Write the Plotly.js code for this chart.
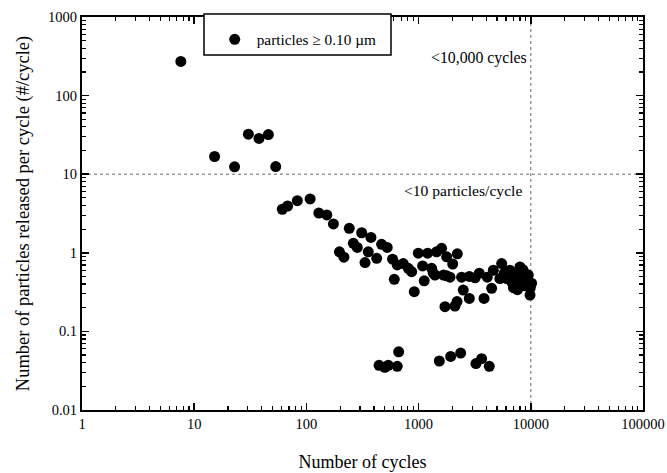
<!DOCTYPE html>
<html>
<head>
<meta charset="utf-8">
<script src="https://cdn.plot.ly/plotly-3.0.1.min.js"></script>
<style>
html,body{margin:0;padding:0;background:#fff;}
#chart{width:667px;height:473px;}
</style>
</head>
<body>
<div id="chart"></div>
<script>
// Data
const cycles = [
  7.6, 15.2, 22.9, 30.4, 37.8, 45.8, 53.3, 61, 68, 83, 108, 129, 152, 174,
  197, 216, 241, 262, 284, 311, 333, 356, 376, 423, 468, 525, 586, 607, 645,
  730, 809, 867, 915, 994, 1086, 1122, 1203, 1306, 1352, 1400, 1445, 1603,
  1667, 1718, 1778, 1778, 1905, 2013, 2110, 2200, 2213, 2417, 2500, 2831,
  2831, 3190, 3475, 3828, 4093, 4478, 4634, 5300, 5500, 5800, 6100, 6500,
  6800, 7000, 7400, 7600, 7800, 8000, 8300, 8500, 8700, 8900, 9200, 9500,
  9840, 9900, 10170,
  444, 500, 537, 645, 664, 1530, 1932, 2371, 3243, 3646, 4266
];
const particles = [
  272, 16.8, 12.4, 32.3, 28.5, 31.9, 12.5, 3.58, 3.94, 4.6, 4.85, 3.2, 3.03, 2.33,
  1.03, 0.88, 2.05, 1.32, 1.17, 1.8, 0.75, 1.03, 1.57, 0.85, 1.28, 1.17, 0.83, 0.46, 0.70,
  0.73, 0.635, 0.575, 0.32, 0.99, 0.68, 0.44, 0.99, 0.635, 0.55, 0.52, 1.03, 1.14,
  0.52, 0.206, 0.89, 0.51, 0.49, 0.72, 0.21, 0.24, 0.97, 0.49, 0.336, 0.50,
  0.263, 0.48, 0.55, 0.263, 0.49, 0.353, 0.60, 0.47, 0.73, 0.55, 0.47, 0.60,
  0.42, 0.36, 0.52, 0.34, 0.40, 0.66, 0.48, 0.61, 0.56, 0.38, 0.45, 0.52,
  0.29, 0.36, 0.41,
  0.037, 0.035, 0.037, 0.036, 0.055, 0.042, 0.048, 0.053, 0.039, 0.045, 0.036
];
const seriesName = 'particles \u2265 0.10 \u00b5m';
const refCycles = 10000;
const refParticles = 10;
const xTickVals = [1, 10, 100, 1000, 10000, 100000];
const xTickText = ['1', '10', '100', '1000', '10000', '100000'];
const yTickVals = [0.01, 0.1, 1, 10, 100, 1000];
const yTickText = ['0.01', '0.1', '1', '10', '100', '1000'];
const noteCycles = '<10,000 cycles';
const noteParticles = '<10 particles/cycle';

const serif = 'Liberation Serif, Times New Roman, serif';

const trace = {
  x: cycles, y: particles, type: 'scatter', mode: 'markers', name: seriesName,
  marker: {color: '#000', size: 11, line: {width: 0}},
  showlegend: true
};

const axisCommon = {
  type: 'log', showgrid: false, zeroline: false,
  showline: true, linecolor: '#000', linewidth: 2, mirror: 'allticks',
  ticks: 'inside', ticklen: 7, tickwidth: 1.5, tickcolor: '#000',
  tickmode: 'array',
  tickfont: {family: serif, size: 14.5, color: '#000'},
  minor: {ticks: 'inside', ticklen: 4, tickwidth: 1.2, tickcolor: '#000', dtick: 'D1', showgrid: false}
};

const layout = {
  width: 667, height: 473,
  margin: {l: 82, r: 24, t: 17, b: 63},
  paper_bgcolor: '#fff', plot_bgcolor: '#fff',
  font: {family: serif, color: '#000'},
  xaxis: Object.assign({}, axisCommon, {
    range: [0, 5], tickvals: xTickVals, ticktext: xTickText,
    title: {text: 'Number of cycles', font: {family: serif, size: 18, color: '#000'}, standoff: 24}
  }),
  yaxis: Object.assign({}, axisCommon, {
    range: [-2, 3], tickvals: yTickVals, ticktext: yTickText,
    title: {text: 'Number of particles released per cycle (#/cycle)', font: {family: serif, size: 18.5, color: '#000'}, standoff: 14}
  }),
  showlegend: true,
  legend: {
    x: 0.233, y: 0.985, xanchor: 'left', yanchor: 'top',
    bgcolor: 'rgba(0,0,0,0)', borderwidth: 0, itemwidth: 34,
    font: {family: serif, size: 15.3, color: '#000'}
  },
  shapes: [
    {type: 'line', xref: 'x', yref: 'paper', x0: refCycles, x1: refCycles, y0: 0, y1: 1,
     line: {color: '#666', width: 1, dash: 'dot'}, layer: 'below'},
    {type: 'line', xref: 'paper', yref: 'y', x0: 0, x1: 1, y0: refParticles, y1: refParticles,
     line: {color: '#666', width: 1, dash: 'dot'}, layer: 'below'},
    {type: 'rect', xref: 'paper', yref: 'paper', x0: (204-82)/561, x1: (391-82)/561,
     y0: (410-55)/393, y1: (410-14)/393, line: {color: '#000', width: 1.5}, fillcolor: '#fff', layer: 'above'}
  ],
  annotations: [
    {xref: 'paper', yref: 'paper', x: (529-82)/561, y: (410-58)/393, xanchor: 'right', yanchor: 'middle',
     text: noteCycles.replace('<', '&lt;'), showarrow: false, font: {family: serif, size: 15.8, color: '#000'}},
    {xref: 'paper', yref: 'paper', x: (524-82)/561, y: (410-190)/393, xanchor: 'right', yanchor: 'middle',
     text: noteParticles.replace('<', '&lt;'), showarrow: false, font: {family: serif, size: 15.6, color: '#000'}}
  ]
};

Plotly.newPlot('chart', [trace], layout, {displayModeBar: false, staticPlot: true});
</script>
</body>
</html>
